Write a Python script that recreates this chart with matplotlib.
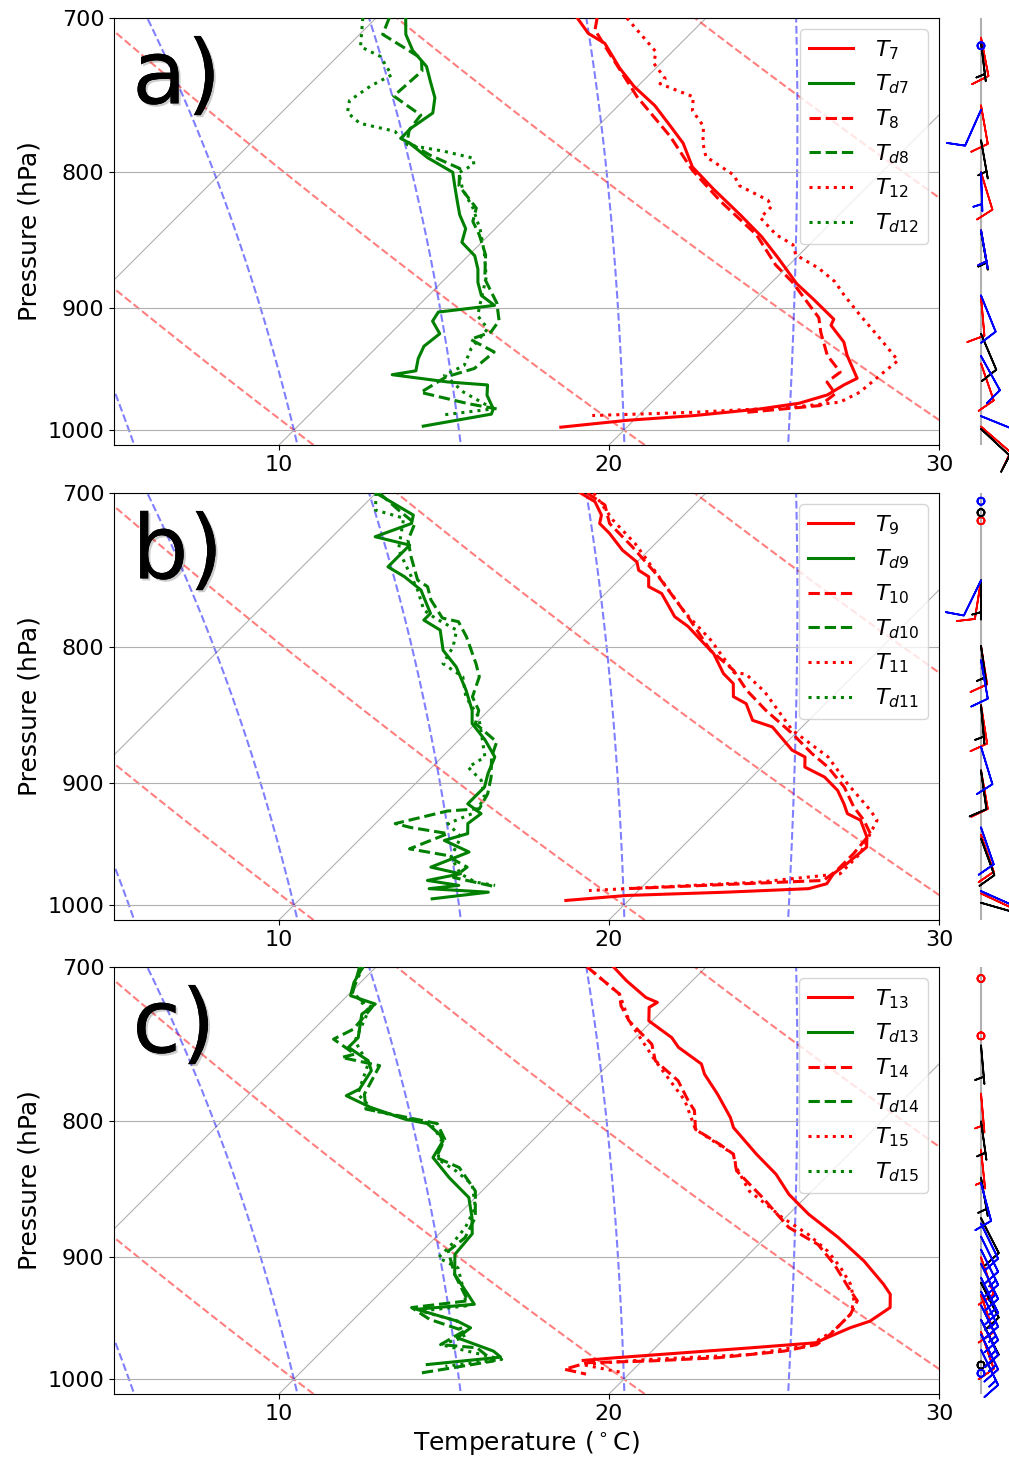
import numpy as np
import matplotlib.pyplot as plt
from matplotlib import transforms
from matplotlib.ticker import FixedLocator, ScalarFormatter, NullLocator, MultipleLocator
import matplotlib.patheffects as pe

# ---------------- panel a soundings (hPa, degC) ----------------
p_T7 = [700, 709.4, 715.5, 731, 742.8, 755.1, 768.7, 780.1, 796.3, 811.6, 830, 845.7, 862.2, 881,
        893.2, 908.5, 913.3, 926.7, 937.4, 956.2, 961.6, 970, 977, 981.8, 987.5, 991.6, 997.5]
T7 = [6.1, 6.9, 7.7, 8.9, 9.9, 11.1, 12.2, 13.1, 14.1, 15.4, 17.0, 18.3, 19.5, 20.8,
      21.8, 23.0, 23.1, 24.0, 24.5, 25.5, 25.3, 25.1, 24.5, 23.5, 21.7, 19.8, 18.0]
p_Td7 = [700, 710, 720, 730, 740, 750, 760, 770, 776.9, 780, 790, 800, 810, 820, 830, 840, 850, 860,
         870, 880, 890, 897.7, 902.9, 910, 920, 930, 940, 950, 953.2, 959.2, 961.7, 970.4, 981.8,
         986.3, 996.6]
Td7 = [0.9, 1.4, 2.1, 3.0, 3.6, 4.2, 4.6, 4.4, 4.4, 4.8, 5.8, 7.0, 7.5, 8.0, 8.5, 9.1, 9.4, 10.2,
       10.7, 11.1, 11.6, 12.3, 10.8, 10.9, 11.5, 11.4, 11.6, 11.9, 11.3, 13.2, 14.5, 14.8, 15.4,
       15.5, 13.8]
p_T8 = [700, 707.3, 723.7, 749.4, 775.5, 798.6, 820.4, 844.5, 866.9, 879.5, 907.3, 918.8, 937.4,
        951.1, 959.3, 969, 979, 984.7]
T8 = [6.7, 7.0, 8.3, 10.3, 12.5, 14.2, 16.0, 18.1, 19.6, 20.6, 22.5, 23.0, 23.9,
      24.8, 24.7, 25.3, 25.2, 23.2]
p_Td8 = [700, 710, 724.9, 732.9, 748.9, 761.4, 771.3, 779.2, 788.3, 797.4, 809.4, 825.2, 834.8,
         844.5, 859.3, 877.3, 895.9, 909.6, 918.7, 924.5, 934.6, 948.1, 955, 967.9, 977.5, 981.8]
Td8 = [0.4, 0.7, 2.6, 3.0, 2.9, 4.3, 4.4, 4.7, 5.8, 7.1, 7.6, 8.8, 9.1,
       9.7, 10.5, 11.2, 12.3, 12.9, 13.0, 12.6, 13.7, 13.6, 13.0, 12.7, 14.5, 15.5]
p_T12 = [700, 720.7, 728.1, 737.7, 741, 749.4, 758.5, 768.7, 780.1, 789.3, 801.9, 809.4, 819.6,
         824.1, 832.1, 844.5, 851.7, 859.3, 869.3, 879.5, 890, 905.7, 924, 941.6, 953.6, 967.8,
         976.1, 980.4, 984.7, 987.5]
T12 = [7.6, 9.5, 9.8, 10.6, 10.6, 12.0, 12.4, 13.2, 13.7, 14.2, 15.6, 16.1, 17.4,
       17.7, 17.7, 18.7, 19.5, 19.9, 21.0, 21.9, 22.6, 23.7, 25.0, 26.2, 26.1, 26.0,
       25.7, 24.4, 21.6, 18.6]
p_Td12 = [700, 717.6, 723.7, 735.4, 742.3, 751.9, 759.7, 766.8, 772.1, 781.2, 785.6, 790.3, 794.6,
          800.3, 811.6, 825.2, 841.3, 857.8, 876.2, 895.9, 905.7, 916, 931.9, 945.5, 953.6, 967.8,
          981.8, 987.2]
Td12 = [-0.4, 0.4, 1.3, 2.2, 1.9, 1.7, 2.0, 2.7, 4.0, 4.8, 6.1, 7.2, 7.4,
        7.2, 7.8, 8.7, 9.6, 10.4, 11.2, 11.8, 12.1, 12.8, 12.9, 13.2, 12.9, 14.0,
        15.4, 14.0]

# ---------------- panel b soundings ----------------
p_T9 = [700, 705.3, 713.5, 718.7, 724.9, 735.5, 743.1, 748.4, 752.6, 759.1, 763.6, 779.1, 785.7,
        797.4, 804.4, 818.4, 825.5, 834.9, 840, 852.2, 857.1, 874.5, 879.7, 887.4, 895.1, 905.5,
        916.1, 923.9, 929.2, 942.8, 951.1, 964.9, 973.3, 981.7, 985.9, 988.9, 991.7, 996]
T9 = [6.2, 6.9, 7.5, 7.7, 8.3, 9.2, 10.0, 10.3, 10.8, 11.1, 11.7, 12.8, 13.5,
      14.5, 15.1, 16.0, 16.6, 17.0, 17.6, 18.3, 19.1, 20.4, 21.0, 21.3, 22.2, 23.0,
      23.6, 24.0, 24.6, 25.3, 25.6, 25.5, 25.4, 25.5, 25.1, 22.7, 19.8, 18.1]
p_Td9 = [700, 713.5, 718.7, 727, 732.3, 746.2, 752.6, 761.3, 776.9, 781.4, 788.2, 802.1, 813.7,
         830.2, 844.9, 854.6, 867, 879.7, 892.6, 902.9, 916.1, 923.9, 931.9, 940, 945.6, 955.1,
         967.7, 973.3, 978.9, 983.1, 985.9, 988.9, 994.6]
Td9 = [0.0, 1.8, 2.0, 1.3, 2.6, 2.6, 3.4, 4.3, 5.3, 5.3, 6.1, 6.8, 7.7,
       8.7, 9.5, 9.9, 10.8, 11.6, 11.9, 12.2, 12.2, 12.9, 12.8, 13.1, 12.6, 13.7,
       13.0, 14.1, 13.3, 14.4, 13.6, 15.5, 14.0]
p_T10 = [700, 707.3, 718.7, 733.4, 752.6, 779.1, 802.1, 816, 830.2, 844.9, 862, 877, 887.4, 902.9,
         918.7, 929.2, 940, 956.6, 970.6, 978.9, 982.3, 985.9]
T10 = [6.4, 7.3, 8.0, 9.4, 11.1, 13.2, 14.9, 16.2, 17.2, 18.4, 19.9, 21.1, 22.0, 23.1,
       24.0, 24.7, 25.3, 25.4, 25.4, 25.3, 22.5, 19.6]
p_Td10 = [700, 710.4, 718.7, 729.2, 739.8, 754.8, 759.1, 767.8, 780, 782.5, 792.8, 811.4, 820.7,
          835.1, 844.9, 854.6, 868.3, 879.7, 895.2, 908.2, 920, 921.8, 931.9, 935.1, 940, 952.5,
          957.8, 967.7, 976.4, 984.5]
Td10 = [0.1, 1.2, 2.1, 2.4, 3.0, 3.9, 4.4, 4.9, 5.8, 6.4, 7.1, 8.2, 8.7,
        9.1, 9.7, 10.0, 11.2, 11.5, 12.1, 12.5, 12.7, 11.8, 10.6, 11.2, 12.5, 11.8,
        13.1, 14.1, 14.0, 15.6]
p_T11 = [700, 716.6, 731.5, 753.7, 776.5, 795, 817.8, 818.8, 831.4, 859.5, 879.7, 900.3, 921.3,
         929.2, 940, 956.6, 973.3, 980.3, 984.5, 987.5]
T11 = [6.6, 8.0, 9.4, 11.2, 13.0, 14.6, 16.3, 16.7, 17.8, 19.8, 21.7, 23.1, 24.6,
       25.1, 25.3, 25.6, 25.6, 23.4, 20.5, 18.5]
p_Td11 = [700, 710.4, 715.4, 735.2, 761.3, 774.7, 780.2, 788.2, 799.8, 811.4, 820.7, 835.1, 849.8,
          864.5, 879.7, 887.5, 897.7, 910.8, 922.6, 931.9, 942.8, 959.2, 973.3, 980.3, 983.1]
Td11 = [0.0, 0.5, 1.6, 2.4, 4.2, 5.0, 5.6, 6.6, 7.0, 7.2, 8.2, 8.9, 9.9,
        10.6, 11.3, 11.1, 11.9, 12.5, 12.7, 12.2, 13.0, 13.3, 14.1, 14.8, 15.5]

# ---------------- panel c soundings ----------------
p_T13 = [700, 708.3, 718.7, 721.8, 724.9, 733.4, 744.1, 750.4, 761.3, 768, 781.4, 797.4, 804.4,
         823.1, 837.5, 852.2, 867, 884.6, 902.9, 921.3, 929.2, 940, 951.1, 956.6, 969.1, 973.3,
         977.5, 981.7, 984]
T13 = [7.2, 8.0, 9.1, 9.6, 9.5, 9.9, 11.1, 11.6, 12.8, 13.2, 14.2, 15.3, 15.7,
       17.2, 18.4, 19.4, 20.6, 22.2, 23.7, 25.0, 25.5, 25.9, 25.7, 25.3, 24.7, 22.9,
       21.0, 19.1, 18.2]
p_Td13 = [700, 709.4, 717.6, 722.8, 729.2, 744.1, 750.4, 759.1, 765.7, 778, 782.5, 790.5, 798.6,
          801.6, 809.1, 813.7, 825.5, 840, 854.6, 869.5, 881.8, 897.7, 913.4, 929.2, 937.3, 941.4,
          951.1, 956.6, 964.9, 976.1, 981.2, 987.5]
Td13 = [-0.4, -0.2, 0.1, 1.1, 1.0, 1.6, 1.6, 2.6, 3.0, 3.2, 3.0, 4.1, 5.5,
        6.3, 7.0, 7.3, 7.5, 8.6, 9.8, 10.5, 11.0, 11.1, 11.7, 12.7, 13.2, 11.6,
        13.2, 13.8, 13.7, 15.2, 15.6, 13.6]
p_T14 = [700, 716.6, 723.9, 733.4, 748.4, 759.1, 772.4, 785.7, 792.6, 805.6, 816.2, 823.1, 835,
         854.6, 877, 890, 905.5, 926.6, 934.5, 945.4, 961.8, 970.6, 976.1, 981.7, 984.5, 985.9,
         991.5, 995.7]
T14 = [6.4, 8.2, 8.6, 9.3, 10.7, 11.3, 12.6, 13.5, 14.0, 14.6, 15.8, 16.5, 17.1,
       18.7, 20.4, 21.8, 22.9, 24.2, 24.7, 24.9, 24.9, 24.8, 24.0, 22.2, 20.2, 18.4,
       17.9, 18.7]
p_Td14 = [700, 716.6, 724.9, 738.7, 745.1, 754.8, 757, 762.4, 781.4, 791.6, 801.6, 812.5, 825.5,
          832.7, 849.8, 869.5, 884.8, 895.2, 913.4, 934.5, 940, 949.6, 959.2, 970.6, 973.3, 984.5,
          995.1]
Td14 = [-0.5, 0.1, 1.1, 1.2, 0.9, 2.0, 1.7, 3.1, 3.5, 4.0, 6.6, 7.3, 7.6,
        8.6, 9.8, 10.6, 10.9, 10.8, 11.7, 12.9, 11.4, 12.3, 13.7, 13.4, 14.6, 15.5,
        13.6]
p_T15 = [700, 716.6, 733.4, 759.1, 785.7, 805.6, 823.1, 832.7, 849.8, 859.5, 869.5, 882.3, 895.2,
         908.2, 921.3, 934.5, 945.4, 959.2, 970.6, 978.9, 983.1, 987.5, 994.6]
T15 = [6.4, 8.2, 9.3, 11.3, 13.4, 14.6, 16.5, 17.0, 18.1, 19.0, 19.9, 21.2, 22.3,
       23.2, 24.0, 24.6, 24.9, 24.9, 24.6, 23.1, 20.2, 18.3, 19.8]
p_Td15 = [700, 714.5, 727, 746.2, 761.3, 781.4, 792.8, 801.6, 812.5, 826.7, 835.1, 844.9, 862,
          877, 890, 900.3, 908.2, 929.2, 938.6, 942.8, 951.1, 964.4, 970.6, 983.1, 988.9]
Td15 = [-0.4, 0.0, 1.1, 1.6, 2.7, 3.3, 4.3, 6.4, 7.2, 7.7, 8.6, 9.5, 10.3,
        10.6, 10.7, 10.7, 11.6, 12.6, 13.0, 11.8, 13.2, 13.9, 13.4, 15.7, 14.2]

# ---------------- winds: (pressure hPa, direction deg, speed kt) ----------------
wind_a_red = [(712, 169, 10), (755, 170, 10), (800, 163, 10), (841, 170, 5), (891, 175, 10),
              (944, 161, 10), (997, 131, 10)]
wind_a_black = [(715, 173, 5), (778, 170, 5), (842, 170, 5), (920, 157, 10), (999, 133, 10)]
wind_a_blue = [(717, 0, 0), (758, 204, 10), (800, 178, 5), (841, 170, 5), (890, 158, 10),
               (938, 151, 10), (988, 112, 10)]
wind_b_red = [(717, 0, 0), (755, 189, 10), (799, 171, 10), (841, 171, 10), (890, 170, 10),
              (941, 161, 10), (990, 115, 10)]
wind_b_black = [(712, 0, 0), (755, 180, 5), (799, 172, 5), (841, 175, 5), (890, 172, 10),
                (944, 160, 10), (998, 106, 10)]
wind_b_blue = [(705, 0, 0), (755, 206, 10), (809, 170, 10), (872, 163, 10), (935, 161, 10),
               (988, 114, 10)]
wind_c_red = [(707, 0, 0), (743, 0, 0), (781, 175, 5), (820, 174, 5), (900, 161, 10),
              (930, 161, 10), (960, 161, 10)]
wind_c_black = [(749, 175, 5), (800, 172, 5), (840, 170, 5), (870, 153, 10), (920, 153, 10),
                (950, 153, 10), (988, 0, 0)]
wind_c_blue = [(844, 165, 10), (874, 154, 10), (884, 154, 10), (894, 154, 15), (905, 154, 15),
               (916, 154, 15), (927, 154, 15), (938, 154, 15), (950, 154, 15), (962, 154, 15),
               (975, 154, 15), (995, 0, 0)]

P_BOT, P_TOP = 1013, 700

# ---- thermodynamics for the background lines ----
Rd, Cp, Lv, eps = 287.04749, 1004.6662, 2.50084e6, 0.6219569


def moist_rate(p, T):
    es = 6.112 * np.exp(17.67 * (T - 273.15) / (T - 29.65))
    rs = eps * es / (p - es)
    return (Rd * T + Lv * rs) / (Cp + Lv * Lv * rs * eps / (Rd * T * T)) / p


def moist_lapse(t0, p_end, n=300):
    # RK4 from 1000 hPa to p_end
    ps = np.linspace(1000., p_end, n)
    T = np.array(t0, dtype=float) + 273.15
    out = [T.copy()]
    for i in range(n - 1):
        p, h = ps[i], ps[i + 1] - ps[i]
        k1 = moist_rate(p, T)
        k2 = moist_rate(p + h / 2, T + h / 2 * k1)
        k3 = moist_rate(p + h / 2, T + h / 2 * k2)
        k4 = moist_rate(p + h, T + h * k3)
        T = T + h / 6 * (k1 + 2 * k2 + 2 * k3 + k4)
        out.append(T.copy())
    return ps, np.array(out) - 273.15


def skew_transform(ax):
    w, h = ax.bbox.width, ax.bbox.height
    return (ax.transScale + ax.transLimits
            + transforms.Affine2D().skew(np.arctan(h / w), 0) + ax.transAxes)


def draw_barbs(bax, winds, colors):
    bax.set_yscale('log')
    bax.set_ylim(P_BOT, P_TOP)
    bax.set_xlim(-1, 1)
    bax.axis('off')
    bax.axvline(0, color='#b0b0b0', lw=1.5, zorder=0)
    for w, c in zip(winds, colors):
        w = np.array(w, dtype=float)
        p, d, s = w[:, 0], np.radians(w[:, 1]), w[:, 2]
        u = -s * np.sin(d)
        v = -s * np.cos(d)
        bax.barbs(np.zeros_like(p), p, u, v, color=c, length=7.5, lw=1.3, clip_on=False,
                  sizes={'emptybarb': 0.09, 'height': 0.45})


def draw_panel(ax, profiles, letter, show_xlabel=False):
    ax.set_yscale('log')
    ax.set_ylim(P_BOT, P_TOP)
    ax.set_xlim(5, 30)
    ax.set_autoscale_on(False)
    skew = skew_transform(ax)

    # isotherms (skewed x grid)
    for t in range(-40, 70, 10):
        ax.plot([t, t], [P_BOT, P_TOP], color='#b0b0b0', lw=0.8, transform=skew, zorder=0.5)
    ax.yaxis.grid(True, color='#b0b0b0', lw=0.8)

    pres = np.linspace(P_BOT, P_TOP, 50)
    for t0 in range(-50, 201, 10):
        tt = (t0 + 273.15) * (pres / 1000.) ** (Rd / Cp) - 273.15
        ax.plot(tt, pres, color='r', ls='--', lw=1.5, alpha=0.5, transform=skew, zorder=1)

    t0s = np.arange(-10., 41., 5.)
    pu, tu = moist_lapse(t0s, 690.)
    pd, td = moist_lapse(t0s, 1020., n=40)
    for j in range(len(t0s)):
        pp = np.concatenate([pd[::-1], pu[1:]])
        tt = np.concatenate([td[::-1, j], tu[1:, j]])
        ax.plot(tt, pp, color='b', ls='--', lw=1.5, alpha=0.5, transform=skew, zorder=1)

    styles = ['-', '-', '--', '--', ':', ':']
    for (p, t, lab), ls in zip(profiles, styles):
        col = 'green' if 'd' in lab else 'red'
        ax.plot(t, p, color=col, ls=ls, lw=2.2, transform=skew, label=lab, zorder=3)

    ax.yaxis.set_major_locator(FixedLocator([700, 800, 900, 1000]))
    ax.yaxis.set_major_formatter(ScalarFormatter())
    ax.yaxis.set_minor_locator(NullLocator())
    ax.xaxis.set_major_locator(MultipleLocator(10))
    ax.tick_params(labelsize=16)
    ax.set_ylabel('Pressure (hPa)', fontsize=18)
    if show_xlabel:
        ax.set_xlabel(r'Temperature ($^\circ$C)', fontsize=18)
    ax.legend(loc='upper right', fontsize=16, handletextpad=1.0)
    ax.text(0.022, 0.80, letter, transform=ax.transAxes, fontsize=64, va='baseline',
            path_effects=[pe.withSimplePatchShadow(offset=(1.5, -1.5), alpha=0.2), pe.Normal()])


fig = plt.figure(figsize=(10.09, 14.63), dpi=100)
W, H = 1009., 1463.
tops = [18, 493, 967]
axes = [fig.add_axes([114 / W, 1 - (t + 427) / H, 825 / W, 427 / H]) for t in tops]
baxes = [fig.add_axes([955 / W, 1 - (t + 427) / H, 52 / W, 427 / H]) for t in tops]

draw_panel(axes[0], [(p_T7, T7, r'$T_{7}$'), (p_Td7, Td7, r'$T_{d7}$'),
                     (p_T8, T8, r'$T_{8}$'), (p_Td8, Td8, r'$T_{d8}$'),
                     (p_T12, T12, r'$T_{12}$'), (p_Td12, Td12, r'$T_{d12}$')], 'a)')
draw_panel(axes[1], [(p_T9, T9, r'$T_{9}$'), (p_Td9, Td9, r'$T_{d9}$'),
                     (p_T10, T10, r'$T_{10}$'), (p_Td10, Td10, r'$T_{d10}$'),
                     (p_T11, T11, r'$T_{11}$'), (p_Td11, Td11, r'$T_{d11}$')], 'b)')
draw_panel(axes[2], [(p_T13, T13, r'$T_{13}$'), (p_Td13, Td13, r'$T_{d13}$'),
                     (p_T14, T14, r'$T_{14}$'), (p_Td14, Td14, r'$T_{d14}$'),
                     (p_T15, T15, r'$T_{15}$'), (p_Td15, Td15, r'$T_{d15}$')], 'c)',
           show_xlabel=True)

draw_barbs(baxes[0], [wind_a_red, wind_a_black, wind_a_blue], ['red', 'black', 'blue'])
draw_barbs(baxes[1], [wind_b_red, wind_b_black, wind_b_blue], ['red', 'black', 'blue'])
draw_barbs(baxes[2], [wind_c_red, wind_c_black, wind_c_blue], ['red', 'black', 'blue'])

fig.savefig('out.png', dpi=100)
